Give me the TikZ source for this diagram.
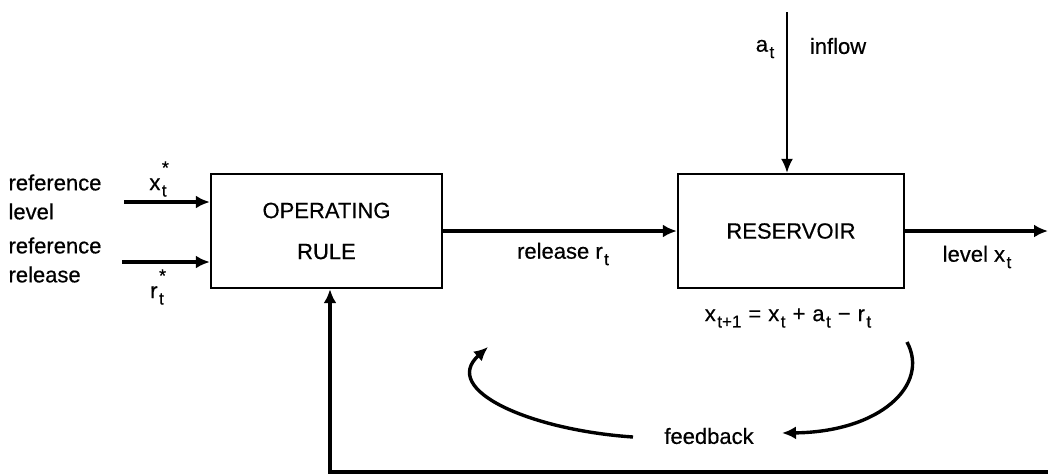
\documentclass[tikz,border=0pt]{standalone}
\usepackage{fontspec}
\setmainfont{Liberation Sans}[FakeBold=0.5]
\usepackage{tikz}
\usetikzlibrary{arrows.meta}
\newcommand{\lowidx}[1]{\kern1.5pt\raisebox{-0.55ex}{\fontsize{17}{17}\selectfont #1}}
\newcommand{\staridx}[1]{\kern1.5pt\makebox[0pt][l]{\raisebox{1.4ex}{\fontsize{18}{18}\selectfont *}}\raisebox{-0.55ex}{\fontsize{17}{17}\selectfont #1}}
\newcommand{\opgap}[1]{\hspace{7pt}#1\hspace{7pt}}

\begin{document}
\begin{tikzpicture}[x=1pt, y=-1pt, line width=2.4pt, font=\fontsize{22}{29}\selectfont]
    \tikzstyle{box}=[draw, line width=2.4pt, minimum height=114pt, align=center, inner sep=0pt]
    \tikzstyle{arr}=[line width=3.4pt, -{Latex[length=14pt,width=13pt]}]
    \tikzstyle{thinarr}=[line width=2pt, -{Latex[length=14pt,width=12pt]}]
    \useasboundingbox (0,0) rectangle (1048,475);
    % blocks
    \node[box, minimum width=231pt] (rule) at (326.5,231) {OPERATING\\[12pt]RULE};
    \node[box, minimum width=226pt] (reservoir) at (791,231) {RESERVOIR};
    % inputs of the rule
    \coordinate (xin) at (124,202);
    \coordinate (rin) at (122,262);
    \draw[arr] (xin) -- (xin -| rule.west);
    \draw[arr] (rin) -- (rin -| rule.west);
    \node[anchor=west, align=left] (reflevel) at (4,197) {reference\\level};
    \node[anchor=west, align=left] (refrelease) at (4,260) {reference\\release};
    \node (xstar) at (158,179) {x\staridx{t}};
    \node (rstar) at (157,287) {r\staridx{t}};
    % release and level
    \draw[arr] (rule.east) -- (reservoir.west);
    \node (release) at (563,254) {release r\lowidx{t}};
    \coordinate (out) at (1048,231);
    \draw[arr] (reservoir.east) -- (out);
    \node (level) at (977,257) {level x\lowidx{t}};
    % inflow
    \coordinate (in) at (787,12);
    \draw[thinarr] (in) -- (in |- reservoir.north);
    \node (at) at (765,49) {a\lowidx{t}};
    \node (inflow) at (838,46) {inflow};
    \node (balance) at (788,318) {x\lowidx{t+1}\opgap{=}x\lowidx{t}\opgap{+}a\lowidx{t}\opgap{−}r\lowidx{t}};
    % feedback
    \node (fb) at (709,436) {feedback};
    \coordinate (arcA) at (907,342);
    \coordinate (arcB) at (782,433);
    \coordinate (arcC) at (633,437);
    \coordinate (arcD) at (488,347);
    \draw[arr] (arcA) .. controls (930,385) and (880,432) .. (arcB);
    \draw[arr] (arcC) .. controls (530,430) and (440,390) .. (arcD);
    \coordinate (fbend) at (1048,472);
    \coordinate (fbcorner) at (330,472);
    \draw[arr] (fbend) -- (fbcorner) -- (fbcorner |- rule.south);
\end{tikzpicture}
\end{document}
